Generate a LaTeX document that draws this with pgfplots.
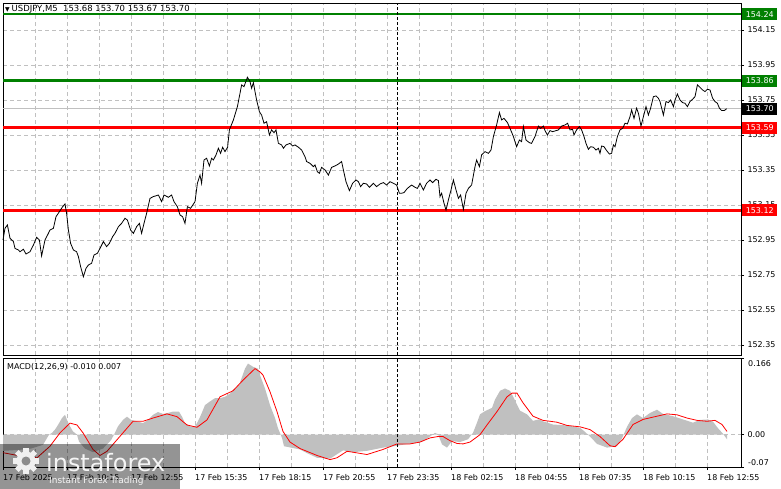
\documentclass[border=0pt]{standalone}
\usepackage{fontspec}
\setmainfont{DejaVu Sans}
\usepackage{pgfplots}
\pgfplotsset{compat=1.18}
\definecolor{lvgreen}{RGB}{0,128,0}
\definecolor{lvred}{RGB}{255,0,0}
\definecolor{gridgray}{RGB}{192,192,192}
\definecolor{histgray}{RGB}{192,192,192}
\newcommand{\tf}{\fontsize{8}{9.6}\selectfont}

\begin{document}
\begin{tikzpicture}
\useasboundingbox (0,0) rectangle (781bp,-489bp);
\pgfplotsset{
  mtbase/.style={
    scale only axis, width=738bp,
    xmin=0, xmax=369,
    axis line style={black, line width=1bp},
    grid style={gridgray, line width=0.8bp, dash pattern=on 4bp off 3bp},
    minor grid style={gridgray, line width=0.8bp, dash pattern=on 4bp off 3bp},
    tick style={black, line width=0.8bp},
    ticklabel style={font=\tf},
    /pgf/number format/assume math mode=true,
    tick align=outside, major tick length=3bp, minor tick length=0pt,
    clip=false,
  },
}
\tikzset{lvl/.style={anchor=west, xshift=1bp, minimum width=35bp, minimum height=12bp,
    inner sep=0pt, text=white, font=\tf}}
% chart header (under the level lines)
\node[anchor=west, inner sep=0pt] at (5bp,-9bp)
  {\fontsize{6}{7}\selectfont ▼\ \fontsize{8.5}{10}\selectfont USDJPY,M5\ \ 153.68 153.70 153.67 153.70};

% ---------------- price panel ----------------
\begin{axis}[mtbase, at={(3bp,-3bp)}, anchor=north west, height=352bp,
  ymin=152.2929, ymax=154.304,
  ytick={152.35,152.55,152.75,152.95,153.15,153.35,153.55,153.75,153.95,154.15},
  yticklabels={152.35,152.55,152.75,152.95,153.15,153.35,153.55,153.75,153.95,154.15},
  yticklabel pos=right, ytick pos=right,
  xtick={16,32,...,352}, xticklabels={},
  xtick style={draw=none},
  xmajorgrids, ymajorgrids,
]
\addplot[gridgray, line width=0.8bp] coordinates {(0,153.70) (369,153.70)};
\addplot[lvgreen, line width=2.5bp] coordinates {(0,154.24) (369,154.24)};
\addplot[lvgreen, line width=2.5bp] coordinates {(0,153.86) (369,153.86)};
\addplot[lvred, line width=3bp] coordinates {(0,153.59) (369,153.59)};
\addplot[lvred, line width=3bp] coordinates {(0,153.12) (369,153.12)};
\addplot[black, line width=0.8bp, dash pattern=on 3bp off 2bp] coordinates {(197,152.2929) (197,154.304)};
\addplot[black, line width=0.8bp] coordinates {
(0,152.950) (1.0,153.017) (2.2,153.036) (3.5,152.960) (5.2,152.941) (6.0,152.902)
(7.7,152.893) (8.5,152.883) (10.2,152.897) (11.5,152.870) (13.5,152.883) (15.2,152.921)
(16.8,152.965) (18.2,152.950) (19.3,152.859) (21.0,152.950) (22.7,152.988) (23.5,153.007)
(25.2,153.017) (26.5,153.083) (28.2,153.112) (29.8,153.140) (31.0,153.156) (31.8,153.102)
(32.7,153.007) (33.8,152.931) (35.2,152.893) (36.8,152.883) (37.7,152.855) (38.8,152.798)
(40.2,152.740) (41.5,152.788) (42.7,152.807) (44.3,152.817) (45.5,152.864) (47.2,152.874)
(48.5,152.902) (50.2,152.941) (51.8,152.912) (53.2,152.931) (54.8,152.969) (56.0,152.988)
(57.7,153.026) (59.3,153.045) (61.0,153.074) (62.2,153.064) (63.8,153.007) (65.2,152.988)
(66.8,153.026) (68.2,153.045) (69.3,152.988) (70.5,153.045) (71.8,153.102) (73.5,153.188)
(75.2,153.198) (77.7,153.207) (79.3,153.169) (80.5,153.207) (82.7,153.194) (84.3,153.207)
(85.5,153.169) (87.2,153.140) (88.5,153.093) (89.8,153.083) (91.0,153.045) (92.2,153.140)
(93.8,153.131) (96.0,153.169) (97.2,153.274) (98.5,153.321) (99.3,153.274) (100.5,153.407)
(101.8,153.417) (103.2,153.373) (104.3,153.417) (105.2,153.407) (106.5,153.436) (107.7,153.474)
(108.8,153.445) (109.8,153.480) (111.0,153.455) (112.3,153.480) (113.2,153.579) (115.2,153.636)
(117.2,153.712) (118.5,153.788) (119.3,153.836) (120.5,153.826) (122.2,153.880) (123.5,153.855)
(124.3,153.817) (125.2,153.849) (126.0,153.798) (126.8,153.750) (128.2,153.683) (129.3,153.664)
(130.5,153.617) (131.8,153.626) (133.2,153.550) (134.3,153.579) (135.5,153.563) (136.5,153.579)
(137.7,153.502) (139.3,153.493) (140.2,153.474) (141.5,153.493) (143.5,153.502) (144.8,153.487)
(146.0,153.493) (147.7,153.480) (149.3,153.464) (151.0,153.426) (151.8,153.398) (153.5,153.388)
(155.2,153.369) (156.0,153.379) (157.2,153.340) (158.2,153.331) (159.3,153.365) (161.0,153.350)
(162.7,153.321) (164.3,153.365) (166.0,153.373) (167.7,153.384) (169.3,153.398) (170.2,153.350)
(171.5,153.283) (173.2,153.232) (174.8,153.274) (176.5,153.293) (177.7,153.283) (178.8,153.255)
(180.2,153.274) (181.8,153.270) (183.2,153.251) (185.2,153.274) (186.8,153.255) (188.5,153.270)
(190.2,153.278) (191.8,153.264) (193.5,153.283) (195.2,153.274) (196.8,153.264) (198.2,153.217)
(199.3,153.217) (200.5,153.221) (202.2,153.245) (204.3,153.264) (206.0,153.251) (207.2,153.245)
(208.5,153.274) (210.2,153.236) (211.8,153.274) (213.5,153.293) (214.8,153.278) (216.5,153.297)
(217.7,153.289) (218.5,153.198) (219.3,153.217) (220.5,153.160) (221.5,153.121) (222.7,153.179)
(224.0,153.236) (225.2,153.293) (226.5,153.236) (227.7,153.188) (228.8,153.207) (230.2,153.125)
(231.5,153.217) (232.7,153.245) (234.3,153.264) (236.0,153.369) (236.8,153.407) (238.2,153.369)
(239.3,153.436) (241.0,153.455) (242.7,153.445) (244.0,153.464) (245.2,153.541) (246.8,153.607)
(248.2,153.678) (249.3,153.636) (250.5,153.645) (252.2,153.621) (253.5,153.588) (255.2,153.541)
(256.8,153.483) (258.2,153.521) (259.3,153.512) (260.2,153.598) (261.5,153.521) (263.2,153.506)
(264.3,153.502) (266.0,153.541) (267.7,153.601) (268.8,153.588) (270.2,153.601) (271.0,153.575)
(272.2,153.550) (273.5,153.575) (274.8,153.569) (276.0,153.573) (277.7,153.579) (279.3,153.601)
(281.0,153.607) (282.3,153.617) (283.5,153.579) (284.8,153.582) (285.5,153.550) (286.8,153.579)
(288.2,153.598) (289.3,153.579) (290.5,153.541) (291.5,153.502) (292.7,153.468) (293.8,153.483)
(295.2,153.480) (296.5,153.464) (297.7,153.474) (298.5,153.445) (299.3,153.487) (300.5,153.483)
(301.8,153.461) (303.2,153.441) (304.3,153.445) (305.2,153.493) (306.0,153.483) (307.2,153.541)
(308.5,153.579) (309.8,153.588) (311.0,153.617) (312.2,153.613) (313.5,153.655) (314.3,153.693)
(315.5,153.645) (316.8,153.703) (317.7,153.674) (319.0,153.601) (320.2,153.655) (321.5,153.712)
(322.7,153.664) (323.8,153.703) (325.2,153.769) (326.5,153.773) (327.7,153.760) (328.5,153.741)
(330.2,153.664) (331.5,153.741) (332.7,153.735) (333.8,153.750) (335.2,153.712) (336.0,153.750)
(337.2,153.784) (338.5,153.750) (339.8,153.735) (341.0,153.731) (342.2,153.712) (343.5,153.741)
(344.8,153.754) (346.0,153.769) (347.2,153.836) (348.5,153.822) (349.8,153.807) (351.0,153.798)
(352.2,153.811) (353.5,153.807) (354.8,153.760) (356.0,153.741) (357.2,153.731) (358.2,153.703)
(359.3,153.690) (360.7,153.690) (361.8,153.700)
};
\coordinate (L1) at (axis cs:369,154.24);
\coordinate (L2) at (axis cs:369,153.86);
\coordinate (L3) at (axis cs:369,153.70);
\coordinate (L4) at (axis cs:369,153.59);
\coordinate (L5) at (axis cs:369,153.12);
\end{axis}

% ---------------- MACD panel ----------------
\begin{axis}[mtbase, at={(3bp,-358bp)}, anchor=north west, height=109bp,
  ymin=-0.07, ymax=0.166,
  ytick={-0.07,0,0.166}, yticklabels={,0.00,},
  yticklabel pos=right, ytick pos=right,
  xtick={0,32,...,352},
  xticklabels={17 Feb 2025,17 Feb 10:15,17 Feb 12:55,17 Feb 15:35,17 Feb 18:15,17 Feb 20:55,
    17 Feb 23:35,18 Feb 02:15,18 Feb 04:55,18 Feb 07:35,18 Feb 10:15,18 Feb 12:55},
  minor xtick={16,48,...,336},
  xtick pos=bottom,
  xticklabel style={anchor=north west, inner sep=0pt, yshift=-4bp},
  xmajorgrids, xminorgrids, ymajorgrids,
]
\addplot[fill=histgray, draw=none] coordinates {
(0,-0.035) (8,-0.033) (14,-0.030) (20,-0.022) (23,0.0) (24.5,0.004) (26,0.011) (27.5,0.021)
(29.5,0.036) (31,0.043) (32,0.032) (33.5,0.018) (35,0.007) (37,0.0) (38,-0.015) (41,-0.030)
(45,-0.038) (50,-0.030) (54,-0.012) (55.5,0.0) (57.5,0.018) (60,0.032) (62,0.039) (64,0.032)
(67,0.029) (70,0.025) (72.5,0.032) (75,0.043) (77.5,0.049) (80,0.045) (82.5,0.047) (85,0.050)
(88,0.050) (89.5,0.039) (91,0.025) (93.5,0.018) (96,0.018) (97.5,0.029) (99,0.043) (101,0.064)
(103.5,0.072) (106,0.079) (108.5,0.079) (111,0.082) (113.5,0.089) (115,0.097) (118,0.107)
(119.5,0.125) (121,0.143) (122.5,0.154) (125,0.147) (127.5,0.143) (128.5,0.129) (131,0.100)
(133.5,0.064) (136,0.036) (137.5,0.014) (139.5,-0.007) (140.5,-0.025) (148.5,-0.032)
(152,-0.040) (157,-0.050) (163.5,-0.052) (170,-0.034) (175,-0.038) (182,-0.035) (190,-0.028)
(197,-0.024) (201,-0.021) (205,-0.019) (210,-0.014) (213.5,-0.004) (216,0.004) (217.5,0.001)
(219.5,-0.021) (222,-0.028) (224.5,-0.014) (228.5,-0.016) (232.5,-0.010) (235,0.004)
(237,0.026) (238.5,0.044) (241,0.051) (244.5,0.058) (246,0.076) (248.5,0.095) (251,0.100)
(253.5,0.095) (255,0.083) (257,0.065) (258.5,0.052) (262,0.044) (265,0.030) (268,0.033)
(270,0.029) (275,0.022) (282,0.020) (288.5,0.015) (291,0.006) (293.5,-0.004) (297,-0.020)
(302,-0.028) (307,-0.025) (309.5,-0.008) (312,0.017) (314.5,0.036) (317,0.044) (320,0.036)
(323.5,0.047) (325,0.050) (327,0.054) (330,0.045) (335,0.040) (340,0.033) (345,0.026)
(348.5,0.032) (352.5,0.033) (355,0.028) (357.5,0.014) (360,0.002) (362,-0.010)
} \closedcycle;
\addplot[lvred, line width=0.8bp] coordinates {
(0,-0.039) (8.5,-0.046) (17,-0.050) (23.5,-0.025) (28.5,0.004) (33.5,0.025) (37,0.021)
(40,0.004) (45,-0.032) (48.5,-0.045) (52,-0.036) (57,-0.011) (62,0.014) (65,0.029) (70,0.029)
(75,0.036) (82,0.045) (87,0.039) (92,0.021) (97,0.016) (102,0.032) (108.5,0.082) (115,0.095)
(120,0.118) (126,0.143) (128.5,0.136) (130,0.129) (133.5,0.093) (137,0.050) (140,0.007)
(143.5,-0.016) (148.5,-0.030) (157,-0.045) (163.5,-0.054) (167,-0.050) (172,-0.036)
(175,-0.038) (182,-0.043) (190,-0.032) (197,-0.020) (203.5,-0.020) (208.5,-0.016)
(213.5,-0.007) (217.5,-0.004) (220,-0.004) (223.5,-0.013) (227,-0.019) (230,-0.020)
(233.5,-0.016) (238.5,0.0) (242,0.021) (247,0.050) (252,0.082) (254.5,0.090) (257,0.090)
(260,0.069) (265,0.040) (270,0.031) (277,0.027) (282,0.020) (288.5,0.017) (293.5,0.011)
(298.5,-0.004) (303.5,-0.024) (306,-0.026) (310,-0.010) (315,0.022) (320,0.033) (327,0.040)
(332,0.045) (337,0.043) (342,0.036) (347,0.031) (352,0.029) (356,0.031) (359.5,0.022) (362,0.007)
};
\addplot[black, line width=0.8bp, dash pattern=on 3bp off 2bp] coordinates {(197,-0.07) (197,0.166)};
\node[anchor=north west, inner sep=0pt, font=\tf, xshift=7bp, yshift=-2bp] at (rel axis cs:1,1) {0.166};
\node[anchor=south west, inner sep=0pt, font=\tf, xshift=7bp, yshift=1bp] at (rel axis cs:1,0) {-0.07};
\node[anchor=west, inner sep=0pt, font=\tf, xshift=4bp, yshift=-9bp] at (rel axis cs:0,1) {MACD(12,26,9) -0.010 0.007};
\end{axis}

% level price boxes
\node[lvl, fill=lvgreen] at (L1) {154.24};
\node[lvl, fill=lvgreen] at (L2) {153.86};
\node[lvl, fill=black] at (L3) {153.70};
\node[lvl, fill=lvred] at (L4) {153.59};
\node[lvl, fill=lvred] at (L5) {153.12};

% watermark
\fill[black, opacity=0.42] (0,-444bp) rectangle (180bp,-489bp);
\begin{scope}[shift={(26bp,-461bp)}]
  \foreach \a in {0,45,...,315}
    \fill[white!88!gray, rotate=\a] (-2.6bp,8bp) rectangle (2.6bp,13bp);
  \fill[white!88!gray] (0,0) circle (9.5bp);
  \fill[gray!90] (0,0) circle (4.5bp);
\end{scope}
\node[anchor=west, inner sep=0pt, text=white!92!gray, font=\fontsize{24}{24}\selectfont] at (46bp,-463bp) {instaforex};
\node[anchor=west, inner sep=0pt, text=white!92!gray, font=\fontsize{9}{10}\selectfont] at (49bp,-481bp) {Instant Forex Trading};
\end{tikzpicture}
\end{document}
